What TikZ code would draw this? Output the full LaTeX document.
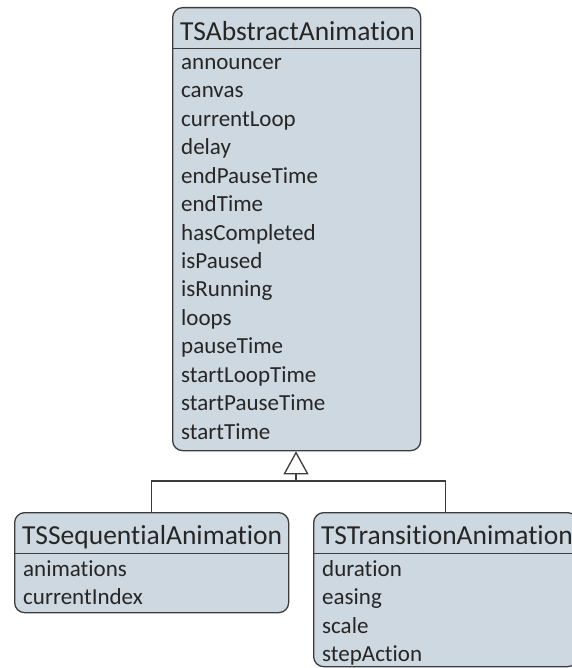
\documentclass[tikz,border=0pt]{standalone}
\usepackage{fontspec}
\setmainfont{Carlito}[Ligatures=NoCommon]
\usetikzlibrary{arrows.meta}
\definecolor{boxfill}{RGB}{205,216,224}
\definecolor{boxline}{RGB}{60,60,60}
\tikzset{
  classbox/.style={draw=boxline, fill=boxfill, line width=1.3pt, rounded corners=10pt, anchor=north west, inner sep=0pt},
  sepline/.style={draw=boxline, line width=1pt},
  titletext/.style={anchor=base west, inner sep=0pt, font=\fontsize{27.5}{27.5}\selectfont, text=black!85},
  itemtext/.style={anchor=mid west, inner sep=0pt, font=\fontsize{23}{23}\selectfont, text=black!85},
  conn/.style={draw=boxline, line width=1.3pt},
}
\begin{document}
\begin{tikzpicture}[x=1pt,y=-1pt]
\useasboundingbox (0,0) rectangle (571,668);
% top class
\node[classbox, minimum width=248pt, minimum height=443pt] (top) at (172,7) {};
\draw[sepline] (172,49) -- (420,49);
\node[titletext] (toptitle) at (180,41) {TSAbstractAnimation};
\foreach \t [count=\i from 0] in {announcer,canvas,currentLoop,delay,endPauseTime,endTime,hasCompleted,isPaused,isRunning,loops,pauseTime,startLoopTime,startPauseTime,startTime}
  \node[itemtext] (topitem\i) at (181,{67+\i*28.45}) {\t};
% left child
\node[classbox, minimum width=274pt, minimum height=100pt] (seq) at (14,512) {};
\draw[sepline] (14,553) -- (288,553);
\node[titletext] (seqtitle) at (22,544) {TSSequentialAnimation};
\node[itemtext] (seqitem0) at (23,574) {animations};
\node[itemtext] (seqitem1) at (23,602.5) {currentIndex};
% right child
\node[classbox, minimum width=264pt, minimum height=154pt] (tra) at (313,512) {};
\draw[sepline] (313,553) -- (577,553);
\node[titletext] (tratitle) at (321,544) {TSTransitionAnimation};
\node[itemtext] (traitem0) at (322,574) {duration};
\node[itemtext] (traitem1) at (322,602.5) {easing};
\node[itemtext] (traitem2) at (322,631) {scale};
\node[itemtext] (traitem3) at (322,659) {stepAction};
% connectors
\coordinate (join) at (296,481);
\draw[conn] (seq.north) |- (join) -| (tra.north);
\draw[conn, -{Triangle[open, length=23pt, width=25pt, line width=1.3pt, fill=white]}] (join) -- (top.south -| join);
\end{tikzpicture}
\end{document}
